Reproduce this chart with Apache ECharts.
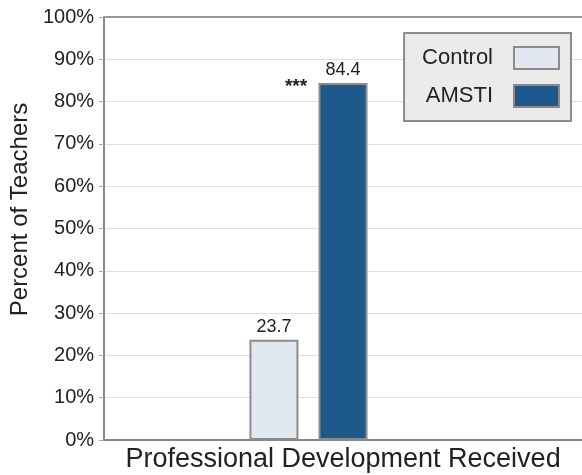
<!DOCTYPE html>
<html>
<head>
    <meta charset="utf-8">
    <title>Professional Development Received</title>
    <script src="https://cdn.jsdelivr.net/npm/echarts@6/dist/echarts.min.js"></script>
    <style>
        html, body { margin: 0; padding: 0; background: #fff; }
        #chart1 { width: 582px; height: 475px; }
    </style>
</head>
<body>
<div id="chart1"></div>
<script>
    // data
    var categories = ['Professional Development Received'];
    var seriesNames = ['Control', 'AMSTI'];
    var controlValues = [23.7];
    var amstiValues = [84.4];
    var yTicks = [0, 10, 20, 30, 40, 50, 60, 70, 80, 90, 100];
    var sigMark = '***';

    var font = 'Liberation Sans, Arial, sans-serif';
    var myChart1 = echarts.init(document.getElementById('chart1'));

    myChart1.setOption({
        animation: false,
        textStyle: { fontFamily: font },
        grid: { left: 103, right: 0, top: 17, bottom: 35 },
        legend: {
            data: seriesNames,
            icon: 'rect',
            orient: 'vertical',
            align: 'right',
            right: 11,
            top: 33,
            itemWidth: 45,
            itemHeight: 22,
            itemGap: 14,
            padding: [13, 11, 13, 18],
            backgroundColor: '#ebebeb',
            borderColor: '#8c8c8c',
            borderWidth: 2,
            borderRadius: 0,
            textStyle: { fontSize: 22, color: '#222', fontFamily: font, padding: [0, 16, 0, 0] }
        },
        xAxis: [{
            type: 'category',
            data: categories,
            axisLine: { lineStyle: { color: '#888', width: 2 } },
            axisTick: { show: false },
            axisLabel: { fontSize: 27, color: '#222', margin: 6 }
        }, {
            type: 'category',
            position: 'top',
            data: categories,
            axisLine: { lineStyle: { color: '#999', width: 2 } },
            axisTick: { show: false },
            axisLabel: { show: false }
        }],
        yAxis: {
            type: 'value',
            min: yTicks[0],
            max: yTicks[yTicks.length - 1],
            interval: yTicks[1] - yTicks[0],
            name: 'Percent of Teachers',
            nameLocation: 'middle',
            nameGap: 65,
            nameTextStyle: { fontSize: 24, color: '#222', padding: [0, 0, 0, 38] },
            axisLine: { show: true, lineStyle: { color: '#888', width: 2 } },
            axisTick: { show: true, length: 5, lineStyle: { color: '#aaa' } },
            axisLabel: { formatter: '{value}%', fontSize: 20, color: '#222', margin: 10 },
            splitLine: { lineStyle: { color: '#dedede', width: 1 } }
        },
        series: [{
            name: seriesNames[0],
            type: 'bar',
            barWidth: 49,
            barGap: '41%',
            data: controlValues,
            itemStyle: { color: '#e1e8f0', borderColor: '#8c8c8c', borderWidth: 2 },
            label: { show: true, position: 'top', distance: 4, fontSize: 18, color: '#222' }
        }, {
            name: seriesNames[1],
            type: 'bar',
            barWidth: 49,
            barGap: '41%',
            data: amstiValues,
            itemStyle: { color: '#1d5a8b', borderColor: '#8c8c8c', borderWidth: 2 },
            label: { show: true, position: 'top', distance: 4, fontSize: 18, color: '#222' },
            markPoint: {
                symbol: 'circle',
                symbolSize: 0,
                data: [{ coord: [categories[0], amstiValues[0]], value: sigMark }],
                label: {
                    show: true,
                    formatter: sigMark,
                    offset: [-47, 4],
                    fontSize: 19,
                    fontWeight: 'bold',
                    color: '#222'
                }
            }
        }, {
            // empty slot: keeps the two bars left of the category centre
            name: 'spacer',
            type: 'bar',
            barWidth: 49,
            barGap: '41%',
            data: ['-'],
            itemStyle: { color: 'transparent' }
        }]
    });
</script>
</body>
</html>
